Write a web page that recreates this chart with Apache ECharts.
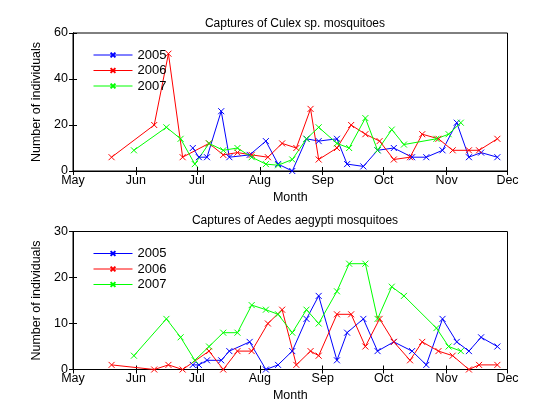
<!DOCTYPE html>
<html><head><meta charset="utf-8">
<script src="https://cdn.jsdelivr.net/npm/echarts@6/dist/echarts.min.js"></script>
<style>html,body{margin:0;padding:0;background:#fff}#c{width:560px;height:420px}</style>
</head><body><div id="c"></div>
<script>
// x values: days after May 1
const monthTicks = [0, 31, 61, 92, 123, 153, 184, 214];
const monthLabels = ['May', 'Jun', 'Jul', 'Aug', 'Sep', 'Oct', 'Nov', 'Dec'];
const years = ['2005', '2006', '2007'];
const colors = ['#0000ff', '#ff0000', '#00ff00'];

const days2005 = [59, 62, 66, 73, 77, 87, 95, 101, 108, 115, 121, 130, 135, 143, 150, 158, 167, 174, 182, 189, 195, 201, 209];
const days2006 = [19, 40, 47, 54, 67, 74, 81, 88, 96, 103, 110, 117, 121, 130, 137, 144, 151, 158, 166, 172, 180, 187, 195, 200, 209];
const days2007 = [30, 46, 53, 60, 67, 74, 81, 88, 95, 101, 108, 115, 121, 130, 136, 144, 150, 157, 163, 179, 185, 191];

const culex2005 = [10, 6, 6, 26, 6, 7, 13, 3, 0, 14, 13, 14, 3, 2, 9, 10, 6, 6, 9, 21, 6, 8, 6];
const culex2006 = [6, 20, 51, 6, 12, 7, 8, 7, 6, 12, 10, 27, 5, 10, 20, 16, 13, 5, 6, 16, 14, 9, 9, 9, 14];
const culex2007 = [9, 19, 14, 3, 12, 9, 10, 6, 3, 2.5, 5, 14, 19, 12, 10, 23, 9, 18, 11.5, 14, 16, 21];

const aedes2005 = [1, 1, 2, 2, 4, 6, 0, 1, 4, 11, 16, 2, 8, 11, 4, 6, 4, 1, 11, 6, 4, 7, 5];
const aedes2006 = [1, 0, 1, 0, 4, 0, 4, 4, 10, 13, 1, 4, 3, 12, 12, 5, 11, 6, 2, 6, 4, 3, 0, 1, 1];
const aedes2007 = [3, 11, 7, 2, 5, 8, 8, 14, 13, 12, 8, 13, 10, 17, 23, 23, 11, 18, 16, 9, 5, 4];

const titles = ['Captures of Culex sp. mosquitoes', 'Captures of Aedes aegypti mosquitoes'];
const yMax = [60, 30];
const yInterval = [20, 10];

const FONT = 'Liberation Sans';
const FS = 12.5;
const zip = (xs, ys) => xs.map((x, i) => [x, ys[i]]);
const XSYM = 'path://M0,0L10,10M0,10L10,0';

const gridTops = [33, 231.5];
const grids = gridTops.map(t => ({left: 73, width: 434.5, top: t, height: 138, show: true, borderColor: '#000', borderWidth: 1, backgroundColor: '#fff'}));

const xAxes = [], yAxes = [];
[0, 1].forEach(g => {
  xAxes.push({type: 'value', gridIndex: g, position: 'bottom', min: 0, max: 214,
    name: 'Month', nameLocation: 'middle', nameGap: 20,
    nameTextStyle: {fontFamily: FONT, fontSize: FS, color: '#000'},
    axisLine: {show: true, lineStyle: {color: '#000'}},
    axisTick: {show: true, inside: true, length: 4, customValues: monthTicks, lineStyle: {color: '#000'}},
    axisLabel: {customValues: monthTicks, formatter: v => monthLabels[monthTicks.indexOf(v)] || '', fontFamily: FONT, fontSize: FS, color: '#000', margin: 3},
    splitLine: {show: false}});
  xAxes.push({type: 'value', gridIndex: g, position: 'top', min: 0, max: 214,
    axisLine: {show: true, lineStyle: {color: '#000'}},
    axisTick: {show: true, inside: true, length: 4, customValues: monthTicks, lineStyle: {color: '#000'}},
    axisLabel: {show: false}, splitLine: {show: false}});
  yAxes.push({type: 'value', gridIndex: g, position: 'left', min: 0, max: yMax[g], interval: yInterval[g],
    name: 'Number of individuals', nameLocation: 'middle', nameGap: 26,
    nameTextStyle: {fontFamily: FONT, fontSize: FS, color: '#000'},
    axisLine: {show: true, lineStyle: {color: '#000'}},
    axisTick: {show: true, inside: true, length: 4, lineStyle: {color: '#000'}},
    axisLabel: {fontFamily: FONT, fontSize: FS, color: '#000', margin: 5},
    splitLine: {show: false}});
  yAxes.push({type: 'value', gridIndex: g, position: 'right', min: 0, max: yMax[g], interval: yInterval[g],
    axisLine: {show: true, lineStyle: {color: '#000'}},
    axisTick: {show: true, inside: true, length: 4, lineStyle: {color: '#000'}},
    axisLabel: {show: false}, splitLine: {show: false}});
});

const dataSets = [
  [zip(days2005, culex2005), zip(days2006, culex2006), zip(days2007, culex2007)],
  [zip(days2005, aedes2005), zip(days2006, aedes2006), zip(days2007, aedes2007)]
];

const series = [];
[0, 1].forEach(g => {
  years.forEach((y, k) => {
    series.push({type: 'line', name: y, xAxisIndex: g * 2, yAxisIndex: g * 2,
      data: dataSets[g][k], symbol: XSYM, symbolSize: 6, showSymbol: true,
      lineStyle: {color: colors[k], width: 1},
      itemStyle: {color: colors[k], borderColor: colors[k], borderWidth: 1},
      emphasis: {disabled: true}, silent: true});
  });
});

const legendTops = [43.5, 242];
const legends = legendTops.map(t => ({orient: 'vertical', left: 88, top: t, itemWidth: 39, itemHeight: 6, itemGap: 2.5,
  data: years, textStyle: {fontFamily: FONT, fontSize: 13, color: '#000'}, selectedMode: false,
  lineStyle: {width: 1}}));

const chart = echarts.init(document.getElementById('c'), null, {renderer: 'canvas'});
chart.setOption({
  animation: false,
  backgroundColor: '#fff',
  title: titles.map((t, i) => ({text: t, left: 290, textAlign: 'center', top: [12.5, 210][i],
    textStyle: {fontFamily: FONT, fontSize: 12, fontWeight: 'normal', color: '#000'}})),
  grid: grids, xAxis: xAxes, yAxis: yAxes, legend: legends, series
});
</script></body></html>
